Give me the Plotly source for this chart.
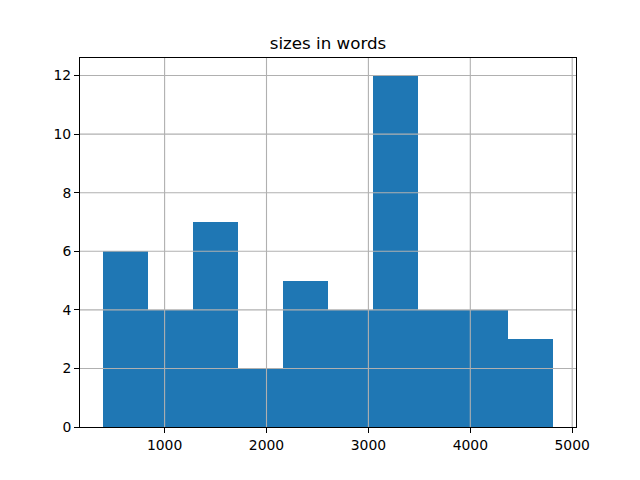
import numpy as np
import plotly.graph_objects as go

# Histogram data
counts = [6, 4, 7, 2, 5, 4, 12, 4, 4, 3]
data_min = 391
data_max = 4816
x_ticks = [1000, 2000, 3000, 4000, 5000]
y_ticks = [0, 2, 4, 6, 8, 10, 12]
title_text = "sizes in words"

edges = np.linspace(data_min, data_max, len(counts) + 1)
centers = (edges[:-1] + edges[1:]) / 2
widths = np.diff(edges)

span = data_max - data_min
x_range = [data_min - 0.05 * span, data_max + 0.05 * span]
y_range = [0, max(counts) * 1.05]

fig = go.Figure(go.Bar(
    x=centers, y=counts, width=widths,
    marker=dict(color="#1f77b4", line=dict(width=0)),
))

grid_color = "#b0b0b0"
shapes = []
for xv in x_ticks:
    if x_range[0] < xv < x_range[1]:
        shapes.append(dict(type="line", xref="x", yref="paper", x0=xv, x1=xv, y0=0, y1=1,
                           line=dict(color=grid_color, width=1.1), layer="above"))
for yv in y_ticks:
    if y_range[0] < yv < y_range[1]:
        shapes.append(dict(type="line", xref="paper", yref="y", x0=0, x1=1, y0=yv, y1=yv,
                           line=dict(color=grid_color, width=1.1), layer="above"))

font = "DejaVu Sans, sans-serif"
axis_common = dict(
    showline=True, linecolor="black", linewidth=1, mirror=True,
    ticks="outside", ticklen=5, tickwidth=1, tickcolor="black",
    showgrid=False, zeroline=False, layer="above traces",
    tickfont=dict(family=font, size=13.9, color="black"),
)

fig.update_layout(
    width=640, height=480,
    margin=dict(l=80, r=64, t=58, b=53),
    paper_bgcolor="white", plot_bgcolor="white",
    bargap=0, showlegend=False,
    shapes=shapes,
    title=dict(text=title_text, x=0.5, xref="paper", xanchor="center",
               y=1, yref="paper", yanchor="bottom", pad=dict(b=9),
               font=dict(family=font, size=16.7, color="black")),
    xaxis=dict(range=x_range, tickvals=x_ticks, **axis_common),
    yaxis=dict(range=y_range, tickvals=y_ticks, **axis_common),
)

fig.write_html("out.html", config={"displayModeBar": False},
               post_script="document.body.style.margin='0';")
